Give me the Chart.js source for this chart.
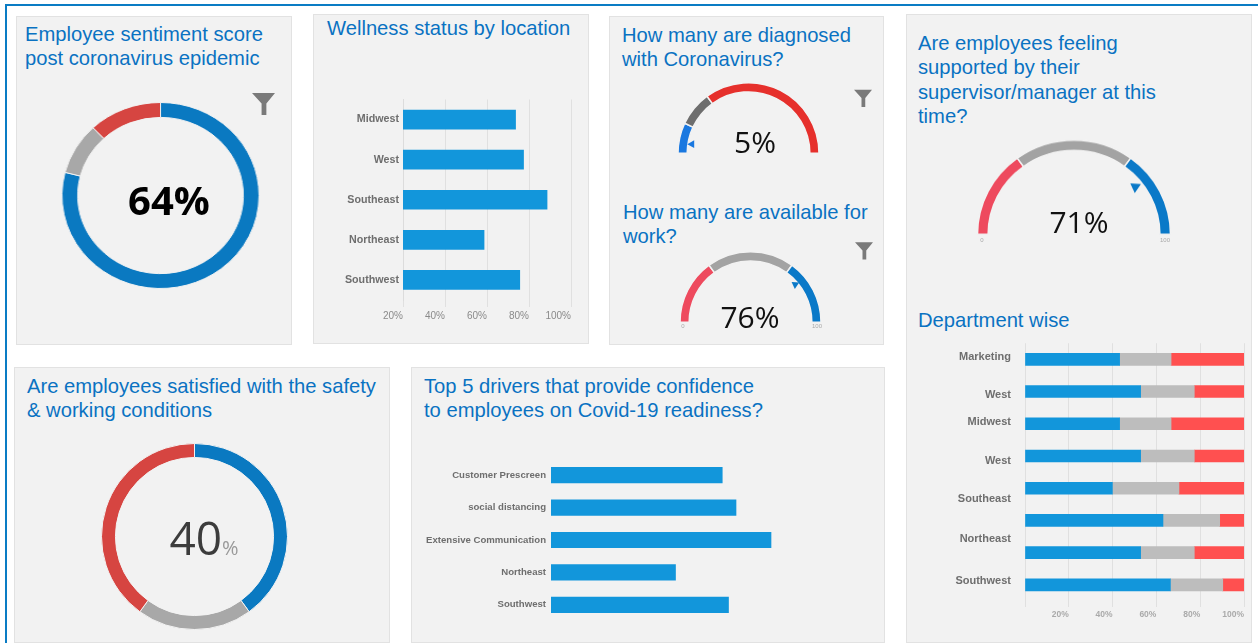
<!DOCTYPE html>
<html>
<head>
<meta charset="utf-8">
<title>Employee wellness dashboard</title>
<script src="https://cdn.jsdelivr.net/npm/chart.js@4"></script>
<style>
html, body { margin: 0; padding: 0; background: #fff; overflow: hidden; }
body { position: relative; width: 1258px; height: 643px; font-family: 'Liberation Sans', Arial, sans-serif; filter: blur(0.35px); }
#frameTop { position: absolute; left: 6px; top: 4px; width: 1252px; height: 2px; background: #0a7cc4; }
#frameLeft { position: absolute; left: 5px; top: 4px; width: 2px; height: 639px; background: #0a7cc4; }
.panel { position: absolute; background: #f2f2f2; border: 1px solid #e2e2e2; box-sizing: border-box; }
.title { position: absolute; color: #0a72c2; font-size: 20.2px; line-height: 24.4px; white-space: nowrap; }
.num { position: absolute; white-space: nowrap; font-family: 'Open Sans', sans-serif; line-height: 1; transform: translate(-50%, -50%); }
.tiny { position: absolute; font-size: 6px; color: #aaa; transform: translateX(-50%); }
canvas { position: absolute; }
svg { position: absolute; }
</style>
</head>
<body>
<div id="frameTop"></div>
<div id="frameLeft"></div>

<div class="panel" style="left:16px;top:16px;width:276px;height:329px"></div>
<div class="panel" style="left:313px;top:14px;width:276px;height:330px"></div>
<div class="panel" style="left:609px;top:16px;width:275px;height:329px"></div>
<div class="panel" style="left:906px;top:14px;width:346px;height:629px"></div>
<div class="panel" style="left:14px;top:367px;width:376px;height:276px"></div>
<div class="panel" style="left:411px;top:367px;width:474px;height:276px"></div>

<div class="title" style="left:25px;top:22px">Employee sentiment score<br>post coronavirus epidemic</div>
<div class="title" style="left:327px;top:16px">Wellness status by location</div>
<div class="title" style="left:622px;top:23px">How many are diagnosed<br>with Coronavirus?</div>
<div class="title" style="left:623px;top:200px">How many are available for<br>work?</div>
<div class="title" style="left:918px;top:31px">Are employees feeling<br>supported by their<br>supervisor/manager at this<br>time?</div>
<div class="title" style="left:918px;top:308px">Department wise</div>
<div class="title" style="left:27px;top:374px">Are employees satisfied with the safety<br>&amp; working conditions</div>
<div class="title" style="left:424px;top:374px">Top 5 drivers that provide confidence<br>to employees on Covid-19 readiness?</div>

<canvas id="sentiment" width="187" height="187" style="left:66.5px;top:101.5px;transform:scaleX(1.06)"></canvas>
<canvas id="safety" width="187" height="187" style="left:101px;top:443px"></canvas>
<canvas id="diagnosed" width="145" height="72" style="left:676px;top:82px"></canvas>
<canvas id="available" width="145" height="72" style="left:678px;top:251px"></canvas>
<canvas id="supported" width="196" height="98" style="left:976px;top:137px;transform-origin:50% 100%;transform:scaleY(0.975)"></canvas>
<canvas id="wellness" width="275" height="316" style="left:313px;top:14px"></canvas>
<canvas id="drivers" width="473" height="180" style="left:411px;top:450px"></canvas>
<canvas id="department" width="346" height="290" style="left:906px;top:335px"></canvas>

<div class="num" style="left:169px;top:200px;font-size:40px;font-weight:700;color:#000">64%</div>
<div class="num" style="left:204px;top:537px;font-size:46px;color:#3c3c3c">40<span style="font-size:20px;color:#999">%</span></div>
<div class="num" style="left:755px;top:142px;font-size:30px;color:#111">5%</div>
<div class="num" style="left:750px;top:317px;font-size:30px;color:#111">76%</div>
<div class="num" style="left:1079px;top:222px;font-size:30px;color:#111">71%</div>

<div class="tiny" style="left:683px;top:323px">0</div>
<div class="tiny" style="left:817px;top:323px">100</div>
<div class="tiny" style="left:982px;top:237px">0</div>
<div class="tiny" style="left:1165px;top:237px">100</div>

<svg style="left:252px;top:92px" width="23" height="23" viewBox="0 0 24 24"><path d="M0 1H24L15 12V24H10V12Z" fill="#7a7a7a"/></svg>
<svg style="left:854px;top:89px" width="18" height="18" viewBox="0 0 24 24"><path d="M0 1H24L15 12V24H10V12Z" fill="#7a7a7a"/></svg>
<svg style="left:855px;top:241px" width="18" height="19" viewBox="0 0 24 24"><path d="M0 1H24L15 12V24H10V12Z" fill="#7a7a7a"/></svg>

<script>
// donuts, read clockwise from the top
const sentimentValues = [79, 9, 12];
const safetyValues = [40, 20, 40];

// gauges, read left to right
const diagnosedValues = [14, 16, 70];
const availableValues = [30, 40, 30];
const supportedValues = [30, 40, 30];
const diagnosedMarker = 5;
const availableMarker = 78;
const supportedMarker = 79;

const wellnessLocations = ['Midwest', 'West', 'Southeast', 'Northeast', 'Southwest'];
const wellnessValues = [73.6, 77.4, 88.6, 58.6, 75.6];

const driverNames = ['Customer Prescreen', 'social distancing', 'Extensive Communication', 'Northeast', 'Southwest'];
const driverValues = [68.5, 74, 88, 49.8, 71];

const departmentRows = ['Marketing', 'West', 'Midwest', 'West', 'Southeast', 'Southeast', 'Northeast', 'Southwest'];
const departmentBlue = [43.2, 52.8, 43.2, 52.8, 39.9, 63, 52.8, 66.4];
const departmentGrey = [23.5, 24.5, 23.5, 24.5, 30.4, 25.9, 24.5, 23.9];
const departmentRed = [33.3, 22.7, 33.3, 22.7, 29.7, 11.1, 22.7, 9.7];
// the labels do not line up with the rows in the picture, so they sit on their own axis
const departmentLabels = ['Marketing', 'West', 'Midwest', 'West', 'Southeast', 'Northeast', 'Southwest'];
const departmentLabelAt = [0.43, 1.61, 2.45, 3.66, 4.84, 6.08, 7.38];

Chart.defaults.animation = false;
Chart.defaults.responsive = false;
Chart.defaults.font.family = "'Liberation Sans', Arial, sans-serif";
Chart.defaults.plugins.legend.display = false;
Chart.defaults.plugins.tooltip.enabled = false;

function donut(id, values, colors, cutout) {
    return new Chart(document.getElementById(id), {
        type: 'doughnut',
        data: {
            datasets: [{ data: values, backgroundColor: colors, borderColor: '#f2f2f2', borderWidth: 1 }]
        },
        options: { cutout: cutout }
    });
}

// small triangle inside the arc; dir is where its tip points, in degrees clockwise from right
const markerPlugin = {
    id: 'marker',
    afterDatasetsDraw(chart, args, opts) {
        const arc = chart.getDatasetMeta(0).data[0];
        const th = opts.value / 100 * Math.PI;
        const size = arc.innerRadius * 0.113;
        const r = arc.innerRadius - opts.inset;
        const x = arc.x - Math.cos(th) * r;
        const y = arc.y - Math.sin(th) * r;
        const c = chart.ctx;
        c.save();
        c.translate(x, y);
        c.rotate(opts.dir * Math.PI / 180);
        c.beginPath();
        c.moveTo(size * 0.55, 0);
        c.lineTo(-size * 0.45, -size * 0.55);
        c.lineTo(-size * 0.45, size * 0.55);
        c.closePath();
        c.fillStyle = opts.color;
        c.fill();
        c.restore();
    }
};

function gauge(id, values, colors, cutout, marker) {
    return new Chart(document.getElementById(id), {
        type: 'doughnut',
        data: {
            datasets: [{ data: values, backgroundColor: colors, borderColor: '#f2f2f2', borderWidth: 1.5 }]
        },
        options: {
            rotation: -90,
            circumference: 180,
            cutout: cutout,
            plugins: { marker: marker }
        },
        plugins: [markerPlugin]
    });
}

donut('sentiment', sentimentValues, ['#0a79c1', '#a8a8a8', '#d64541'], '84%');
donut('safety', safetyValues, ['#0a79c1', '#a8a8a8', '#d64541'], '85%');
gauge('diagnosed', diagnosedValues, ['#1a78e0', '#6e6e6e', '#e6302c'], '87%', { value: diagnosedMarker, color: '#1a78e0', inset: 3.2, dir: 180 });
gauge('available', availableValues, ['#ee4a5e', '#a3a3a3', '#0a79c8'], '87%', { value: availableMarker, color: '#0a79c8', inset: 3.4, dir: 95 });
gauge('supported', supportedValues, ['#ee4a5e', '#a3a3a3', '#0a79c8'], '89%', { value: supportedMarker, color: '#0a79c8', inset: 8.4, dir: 95 });

new Chart(document.getElementById('wellness'), {
    type: 'bar',
    data: {
        labels: wellnessLocations,
        datasets: [{ data: wellnessValues, backgroundColor: '#1296db', barThickness: 19 }]
    },
    options: {
        indexAxis: 'y',
        layout: { padding: { top: 85.5, right: 17 } },
        scales: {
            x: {
                min: 20,
                max: 100,
                afterFit: s => { s.height = 30; },
                grid: { color: '#e0e0e0', tickLength: 7 },
                border: { display: false },
                ticks: { stepSize: 20, align: 'end', maxRotation: 0, color: '#8a8a8a', font: { size: 10 }, callback: v => v + '%' }
            },
            y: {
                afterFit: s => { s.width = 90; },
                grid: { display: false, tickLength: 4 },
                border: { color: '#dcdcdc' },
                ticks: { color: '#6e6e6e', padding: 0, font: { size: 10.7, weight: 'bold' } }
            }
        }
    }
});

new Chart(document.getElementById('drivers'), {
    type: 'bar',
    data: {
        labels: driverNames,
        datasets: [{ data: driverValues, backgroundColor: '#1296db', barThickness: 15.5 }]
    },
    options: {
        indexAxis: 'y',
        layout: { padding: { top: 9, bottom: 9, right: 83 } },
        scales: {
            x: { min: 0, max: 100, display: false },
            y: {
                afterFit: s => { s.width = 140; },
                grid: { display: false, tickLength: 5 },
                border: { display: false },
                ticks: { color: '#6e6e6e', padding: 0, font: { size: 9.6, weight: 'bold' } }
            }
        }
    }
});

new Chart(document.getElementById('department'), {
    type: 'bar',
    data: {
        labels: departmentRows,
        datasets: [
            { data: departmentBlue, backgroundColor: '#1296db', barThickness: 12 },
            { data: departmentGrey, backgroundColor: '#bdbdbd', barThickness: 12 },
            { data: departmentRed, backgroundColor: '#ff5050', barThickness: 12 }
        ]
    },
    options: {
        indexAxis: 'y',
        layout: { padding: { top: 8.2, right: 8 } },
        scales: {
            x: {
                stacked: true,
                min: 0,
                max: 100,
                afterFit: s => { s.height = 24; },
                grid: { color: '#e0e0e0', tickLength: 6 },
                border: { display: false },
                ticks: {
                    stepSize: 20,
                    align: 'end',
                    maxRotation: 0,
                    color: '#aaa',
                    font: { size: 8.5, weight: 'bold' },
                    callback: v => v === 0 ? '' : v + '%'
                }
            },
            y: { stacked: true, display: false },
            labels: {
                type: 'linear',
                position: 'left',
                reverse: true,
                offset: false,
                min: 0,
                max: 8,
                afterBuildTicks: s => { s.ticks = departmentLabelAt.map(v => ({ value: v })); },
                afterFit: s => { s.width = 119; },
                grid: { display: false, offset: false, tickLength: 14 },
                border: { display: false },
                ticks: {
                    autoSkip: false,
                    color: '#6e6e6e',
                    padding: 0,
                    font: { size: 11, weight: 'bold' },
                    callback: (v, i) => departmentLabels[i]
                }
            }
        }
    }
});
</script>
</body>
</html>
